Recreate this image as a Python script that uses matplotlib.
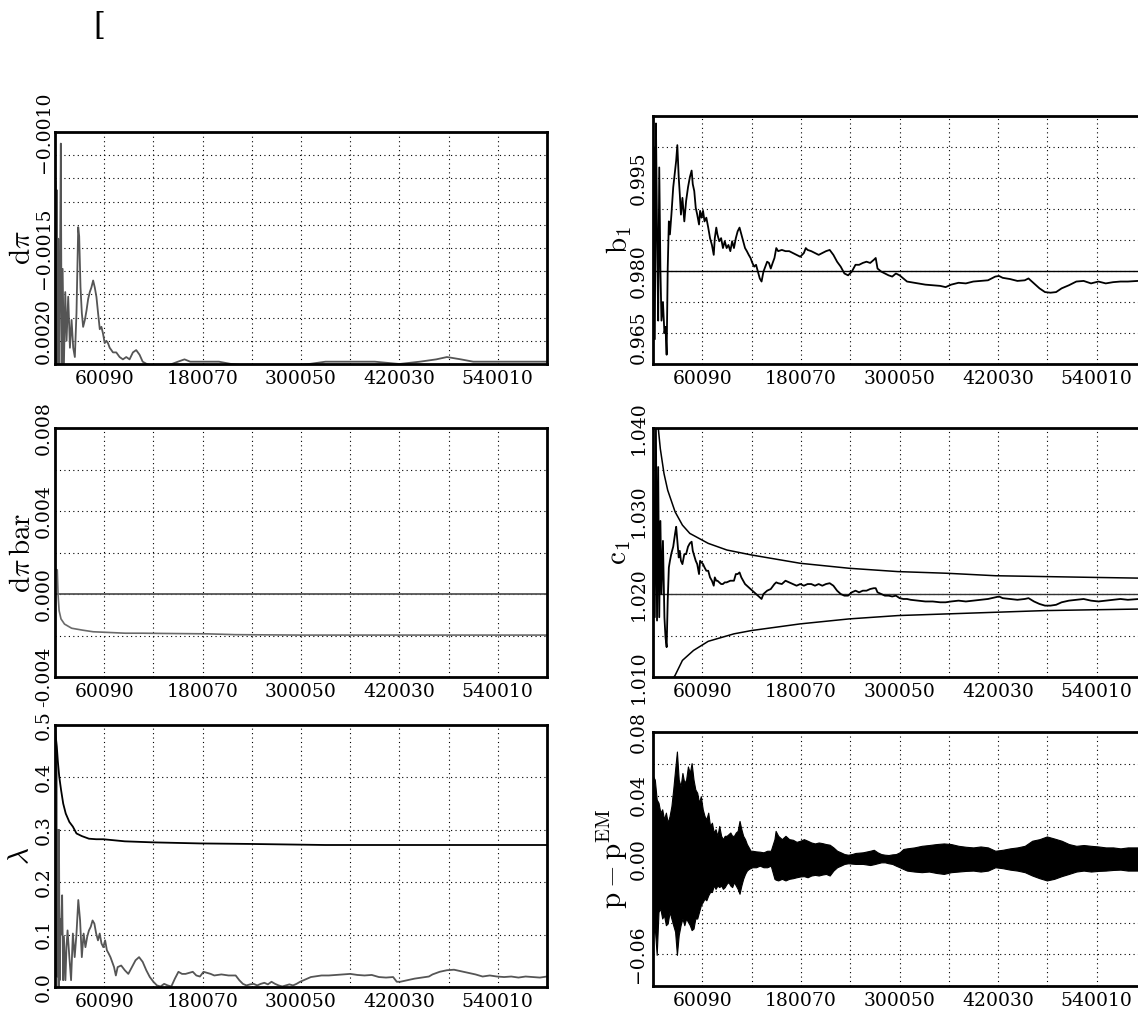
import numpy as np
import matplotlib.pyplot as plt

plt.rcParams['font.family'] = 'DejaVu Serif'
plt.rcParams['mathtext.fontset'] = 'cm'

# x axis: iterations
x_lo, x_hi = 100, 600000
x_grid = [60090, 120080, 180070, 240060, 300050, 360040, 420030, 480020, 540010]
x_labels = ['60090', '', '180070', '', '300050', '', '420030', '', '540010']

# d pi (thousands of iterations, value)
dpi_kx = [0.1, 0.6, 1.4, 2.2, 3.0, 4.0, 5.0, 6.0, 7.2, 8.2, 9.4, 11.0, 12.6, 14.2, 16.2,
          18.3, 20.3, 22.3, 24.3, 26.3, 28.4, 29.6, 31.2, 32.8, 34.4, 36.5, 38.5, 40.5,
          42.5, 44.5, 46.6, 48.6, 50.6, 52.6, 54.7, 56.7, 58.7, 60.7, 62.7, 64.7, 66.8,
          68.8, 70.8, 74.8, 78.9, 82.9, 87.0, 91.0, 95.1, 99.1, 103.2, 107.0, 112.0,
          120.0, 135.0, 150.0, 158.0, 165.0, 180.0, 200.0, 215.0, 240.0, 280.0, 310.0,
          330.0, 360.0, 390.0, 420.0, 445.0, 465.0, 478.0, 495.0, 510.0, 540.0, 570.0, 600.0]
dpi_val = [-0.00200, -0.00121, -0.00200, -0.00125, -0.00200, -0.00146, -0.00200, -0.00170,
           -0.00105, -0.00200, -0.00159, -0.00200, -0.00169, -0.00190, -0.00171, -0.00193,
           -0.00181, -0.00193, -0.00197, -0.00178, -0.00141, -0.00145, -0.00167, -0.00178,
           -0.00184, -0.00181, -0.00177, -0.00172, -0.00169, -0.00167, -0.00164, -0.00167,
           -0.00171, -0.00178, -0.00185, -0.00184, -0.00187, -0.00191, -0.00190, -0.00191,
           -0.00193, -0.00194, -0.00195, -0.00195, -0.00197, -0.00198, -0.00197, -0.00198,
           -0.00195, -0.00194, -0.00196, -0.00199, -0.00200, -0.00201, -0.00201, -0.00199,
           -0.00198, -0.00199, -0.00199, -0.00199, -0.00200, -0.00201, -0.00201, -0.00200,
           -0.00199, -0.00199, -0.00199, -0.00200, -0.00199, -0.00198, -0.00197, -0.00198,
           -0.00199, -0.00199, -0.00199, -0.00199]

# d pi bar
dpib_kx = [0.1, 2.9, 3.8, 5.1, 7.4, 11.7, 20.4, 33.4, 46.6, 64.0, 85.8, 107.0, 129.0,
           186.0, 220.0, 300.0, 600.0]
dpib_val = [0.00120, 0.00116, 0.00000, -0.00080, -0.00120, -0.00145, -0.00165, -0.00174,
            -0.00182, -0.00185, -0.00189, -0.00189, -0.00190, -0.00192, -0.00196,
            -0.00198, -0.00198]

# lambda: upper (black) and lower (grey) curves
lamu_kx = [0.1, 1.0, 2.3, 3.6, 5.3, 7.5, 10.1, 13.2, 17.6, 21.9, 26.3, 32.8, 41.5, 50.3,
           59.0, 85.2, 120.1, 176.8, 237.9, 329.5, 456.0, 600.0]
lamu_val = [0.500, 0.478, 0.459, 0.430, 0.401, 0.376, 0.350, 0.331, 0.315, 0.306, 0.293,
            0.288, 0.283, 0.282, 0.282, 0.278, 0.276, 0.274, 0.273, 0.271, 0.271, 0.271]
laml_kx = [0.1, 0.97, 1.8, 2.7, 3.6, 4.5, 4.9, 5.8, 6.6, 7.5, 8.8, 10.1, 11.0, 12.8, 14.1,
           15.4, 17.6, 19.7, 21.9, 24.1, 26.3, 28.5, 30.7, 32.8, 35.0, 37.2, 39.4, 41.5,
           43.7, 45.9, 48.1, 50.3, 52.5, 54.6, 56.8, 59.0, 61.2, 63.4, 65.5, 67.7, 72.1,
           74.3, 76.5, 80.8, 85.2, 89.5, 93.9, 98.3, 102.6, 107.0, 111.4, 115.7, 120.1,
           124.4, 128.8, 133.2, 137.5, 141.9, 146.3, 150.6, 155.0, 159.3, 163.7, 168.1,
           172.4, 176.8, 181.2, 185.5, 189.9, 194.3, 203.0, 211.7, 220.4, 224.8, 229.2,
           233.5, 237.9, 242.3, 246.6, 251.0, 255.4, 259.7, 264.1, 268.4, 272.8, 277.2,
           281.5, 285.9, 290.3, 294.6, 299.0, 303.3, 307.7, 312.1, 316.4, 325.1, 333.9,
           342.6, 351.3, 360.1, 368.8, 377.5, 386.3, 395.0, 403.7, 412.4, 416.8, 421.1,
           429.9, 438.6, 447.3, 456.0, 460.4, 469.1, 477.9, 486.6, 495.3, 504.0, 512.8,
           521.5, 530.2, 539.0, 547.7, 556.4, 565.2, 573.9, 582.6, 591.3, 600.0]
laml_val = [0.50, 0.05, 0.45, 0.02, 0.30, 0.0, 0.30, 0.013, 0.13, 0.10, 0.175, 0.013, 0.096,
            0.013, 0.076, 0.108, 0.057, 0.013, 0.102, 0.057, 0.102, 0.166, 0.127, 0.057,
            0.102, 0.076, 0.096, 0.108, 0.115, 0.127, 0.121, 0.102, 0.089, 0.102, 0.083,
            0.076, 0.089, 0.070, 0.064, 0.057, 0.038, 0.022, 0.038, 0.041, 0.032, 0.025,
            0.038, 0.051, 0.057, 0.048, 0.032, 0.019, 0.010, 0.003, 0.001, 0.006, 0.003,
            0.001, 0.016, 0.029, 0.025, 0.025, 0.027, 0.029, 0.022, 0.020, 0.029, 0.027,
            0.025, 0.022, 0.024, 0.022, 0.022, 0.013, 0.006, 0.003, 0.005, 0.006, 0.003,
            0.006, 0.008, 0.005, 0.010, 0.006, 0.003, 0.001, 0.003, 0.005, 0.003, 0.006,
            0.010, 0.013, 0.016, 0.019, 0.020, 0.022, 0.022, 0.023, 0.024, 0.025, 0.023,
            0.022, 0.023, 0.019, 0.018, 0.019, 0.010, 0.010, 0.013, 0.016, 0.018, 0.020,
            0.024, 0.029, 0.032, 0.033, 0.030, 0.027, 0.024, 0.020, 0.022, 0.020, 0.019,
            0.020, 0.018, 0.020, 0.019, 0.018, 0.020]

# b1 and c1 estimates share the same sampling in x
bc_kx = [0.1, 1.0, 2.3, 3.7, 5.0, 6.4, 7.7, 9.1, 10.4, 12.2, 14.0, 15.3, 16.7, 18.0, 19.4,
         20.7, 22.5, 24.7, 27.0, 28.3, 29.7, 31.4, 32.7, 34.1, 35.9, 38.2, 40.4, 42.7, 44.9,
         47.1, 48.5, 50.3, 52.1, 53.9, 56.1, 57.4, 59.2, 61.0, 62.8, 65.0, 67.3, 69.5, 71.8,
         74.0, 75.3, 77.1, 78.5, 80.7, 83.0, 85.2, 87.4, 89.7, 91.9, 94.2, 96.4, 98.6,
         100.9, 103.1, 105.4, 107.6, 109.8, 112.1, 114.3, 116.6, 118.8, 121.0, 123.3,
         125.5, 127.8, 130.0, 132.2, 134.5, 136.7, 139.0, 141.2, 143.4, 145.7, 147.9,
         150.1, 152.4, 156.9, 161.3, 165.8, 170.3, 174.8, 179.3, 183.7, 186.0, 188.2,
         192.7, 197.2, 201.7, 206.1, 210.6, 215.1, 219.6, 224.1, 228.5, 233.0, 237.5,
         242.0, 246.5, 250.9, 255.4, 259.9, 264.4, 268.8, 271.1, 273.3, 277.8, 282.3,
         286.8, 291.2, 295.7, 300.2, 304.7, 309.2, 313.6, 322.6, 331.5, 340.5, 349.5,
         356.2, 362.9, 371.9, 380.8, 389.8, 398.7, 407.7, 416.6, 421.1, 425.6, 434.6,
         443.5, 452.5, 457.0, 463.7, 470.4, 477.1, 483.8, 490.6, 497.3, 506.2, 515.2,
         524.1, 533.1, 542.1, 551.0, 560.0, 568.9, 577.9, 590.4, 600.0]
b1_val = [0.9891, 1.0000, 0.9690, 1.0038, 0.9864, 0.9720, 0.9967, 0.9804, 0.9720, 0.9750,
          0.9700, 0.9710, 0.9665, 0.9804, 0.9880, 0.9859, 0.9891, 0.9935, 0.9962, 0.9978,
          1.0003, 0.9951, 0.9924, 0.9891, 0.9918, 0.9880, 0.9913, 0.9935, 0.9951, 0.9962,
          0.9940, 0.9929, 0.9902, 0.9891, 0.9875, 0.9897, 0.9886, 0.9897, 0.9880, 0.9886,
          0.9870, 0.9853, 0.9842, 0.9826, 0.9853, 0.9870, 0.9859, 0.9848, 0.9853, 0.9837,
          0.9848, 0.9837, 0.9842, 0.9832, 0.9848, 0.9837, 0.9853, 0.9864, 0.9870, 0.9859,
          0.9848, 0.9837, 0.9832, 0.9826, 0.9821, 0.9813, 0.9807, 0.9810, 0.9799, 0.9788,
          0.9783, 0.9799, 0.9807, 0.9815, 0.9813, 0.9804, 0.9813, 0.9821, 0.9837, 0.9832,
          0.9834, 0.9832, 0.9832, 0.9829, 0.9826, 0.9823, 0.9829, 0.9837, 0.9834, 0.9832,
          0.9829, 0.9826, 0.9829, 0.9832, 0.9834, 0.9826, 0.9815, 0.9807, 0.9796, 0.9793,
          0.9799, 0.9810, 0.9810, 0.9813, 0.9815, 0.9813, 0.9818, 0.9821, 0.9804, 0.9799,
          0.9796, 0.9793, 0.9791, 0.9796, 0.9793, 0.9788, 0.9783, 0.9782, 0.9780, 0.9778,
          0.9777, 0.9776, 0.9774, 0.9778, 0.9781, 0.9780, 0.9783, 0.9784, 0.9785, 0.9791,
          0.9792, 0.9789, 0.9787, 0.9784, 0.9785, 0.9788, 0.9780, 0.9772, 0.9766, 0.9765,
          0.9766, 0.9772, 0.9777, 0.9783, 0.9784, 0.9780, 0.9783, 0.9780, 0.9782, 0.9783,
          0.9783, 0.9784, 0.9783]
c1_val = [1.0393, 1.0300, 1.0172, 1.0399, 1.0168, 1.0353, 1.0172, 1.0288, 1.0200, 1.0264,
          1.0172, 1.0148, 1.0136, 1.0192, 1.0232, 1.0240, 1.0249, 1.0257, 1.0273, 1.0281,
          1.0264, 1.0244, 1.0252, 1.0240, 1.0236, 1.0248, 1.0248, 1.0257, 1.0261, 1.0263,
          1.0252, 1.0246, 1.0240, 1.0236, 1.0224, 1.0240, 1.0238, 1.0236, 1.0232, 1.0228,
          1.0228, 1.0220, 1.0216, 1.0210, 1.0220, 1.0216, 1.0216, 1.0214, 1.0212, 1.0212,
          1.0214, 1.0214, 1.0215, 1.0216, 1.0216, 1.0216, 1.0224, 1.0224, 1.0226, 1.0220,
          1.0216, 1.0212, 1.0210, 1.0208, 1.0206, 1.0204, 1.0202, 1.0200, 1.0198, 1.0196,
          1.0194, 1.0200, 1.0202, 1.0204, 1.0205, 1.0206, 1.0209, 1.0212, 1.0214, 1.0213,
          1.0212, 1.0216, 1.0214, 1.0212, 1.0210, 1.0212, 1.0210, 1.0211, 1.0212, 1.0212,
          1.0210, 1.0212, 1.0210, 1.0212, 1.0213, 1.0210, 1.0204, 1.0200, 1.0198, 1.0198,
          1.0202, 1.0204, 1.0202, 1.0204, 1.0204, 1.0206, 1.0207, 1.0207, 1.0202, 1.0200,
          1.0198, 1.0198, 1.0197, 1.0198, 1.0195, 1.0194, 1.0194, 1.0193, 1.0192, 1.0191,
          1.0191, 1.0190, 1.0190, 1.0191, 1.0192, 1.0191, 1.0192, 1.0193, 1.0194, 1.0196,
          1.0197, 1.0195, 1.0194, 1.0193, 1.0194, 1.0195, 1.0191, 1.0188, 1.0186, 1.0186,
          1.0187, 1.0190, 1.0192, 1.0193, 1.0194, 1.0192, 1.0191, 1.0192, 1.0193, 1.0194,
          1.0193, 1.0194, 1.0194]

# c1 confidence band
c1up_kx = [2.0, 6.8, 9.0, 13.5, 18.0, 27.0, 35.9, 44.9, 67.3, 90.0, 120.1, 179.3, 238.8,
           297.9, 357.5, 417.1, 476.7, 536.2, 600.0]
c1up_val = [1.0500, 1.0397, 1.0375, 1.0345, 1.0325, 1.0299, 1.0283, 1.0273, 1.0261, 1.0253,
            1.0247, 1.0237, 1.0231, 1.0227, 1.0225, 1.0222, 1.0221, 1.0220, 1.0219]
c1lo_kx = [22.0, 27.0, 35.9, 49.4, 67.3, 98.6, 120.1, 179.3, 238.8, 297.9, 357.5, 417.1,
           476.7, 536.2, 600.0]
c1lo_val = [1.0095, 1.0102, 1.0120, 1.0132, 1.0143, 1.0152, 1.0156, 1.0164, 1.0170, 1.0174,
            1.0176, 1.0178, 1.0180, 1.0181, 1.0182]

# p - p^EM envelope
pe_kx = [0.1, 2.3, 4.6, 6.8, 9.1, 11.3, 13.5, 15.8, 18.0, 20.3, 22.5, 24.7, 27.0, 29.2,
         31.4, 33.7, 35.9, 38.2, 40.4, 42.6, 44.9, 47.1, 49.4, 51.6, 53.9, 56.1, 58.3,
         60.6, 62.8, 65.0, 67.3, 69.5, 71.8, 74.0, 76.2, 78.5, 80.7, 83.0, 85.2, 87.4,
         89.7, 91.9, 94.2, 96.4, 98.6, 100.9, 103.1, 105.4, 107.6, 109.8, 112.1, 114.3,
         116.6, 118.8, 121.0, 125.5, 130.0, 134.5, 139.0, 143.4, 147.9, 149.3, 152.4,
         156.9, 161.3, 165.8, 170.3, 174.8, 179.3, 183.7, 188.2, 192.7, 197.2, 201.7,
         206.1, 210.6, 215.1, 219.6, 224.1, 228.5, 233.0, 237.5, 242.0, 246.5, 255.4,
         264.4, 268.8, 273.3, 277.8, 282.3, 286.8, 291.2, 295.7, 300.2, 304.7, 309.2,
         318.1, 327.1, 336.0, 345.0, 354.0, 362.9, 371.9, 380.8, 389.8, 398.7, 407.7,
         416.6, 425.6, 434.6, 443.5, 452.5, 461.5, 470.4, 479.4, 488.3, 497.3, 506.2,
         515.2, 524.1, 533.1, 542.1, 551.0, 560.0, 568.9, 577.9, 590.4, 600.0]
pe_up = [0.0521, 0.0500, 0.0375, 0.0354, 0.0292, 0.0313, 0.0250, 0.0292, 0.0229, 0.0271,
         0.0333, 0.0438, 0.0563, 0.0677, 0.0500, 0.0458, 0.0542, 0.0479, 0.0500, 0.0583,
         0.0542, 0.0604, 0.0500, 0.0438, 0.0417, 0.0354, 0.0396, 0.0313, 0.0271, 0.0250,
         0.0292, 0.0208, 0.0229, 0.0167, 0.0188, 0.0146, 0.0208, 0.0146, 0.0125, 0.0146,
         0.0146, 0.0156, 0.0167, 0.0146, 0.0146, 0.0167, 0.0177, 0.0240, 0.0188, 0.0146,
         0.0125, 0.0094, 0.0073, 0.0052, 0.0052, 0.0048, 0.0046, 0.0042, 0.0052, 0.0052,
         0.0125, 0.0177, 0.0146, 0.0125, 0.0146, 0.0125, 0.0121, 0.0108, 0.0115, 0.0125,
         0.0115, 0.0104, 0.0098, 0.0104, 0.0100, 0.0094, 0.0090, 0.0073, 0.0052, 0.0042,
         0.0031, 0.0027, 0.0031, 0.0038, 0.0042, 0.0052, 0.0058, 0.0042, 0.0031, 0.0027,
         0.0025, 0.0029, 0.0031, 0.0042, 0.0063, 0.0067, 0.0073, 0.0083, 0.0088, 0.0094,
         0.0098, 0.0094, 0.0083, 0.0077, 0.0073, 0.0079, 0.0073, 0.0052, 0.0058, 0.0067,
         0.0073, 0.0083, 0.0115, 0.0125, 0.0142, 0.0129, 0.0115, 0.0094, 0.0083, 0.0088,
         0.0083, 0.0079, 0.0073, 0.0073, 0.0067, 0.0073, 0.0073, 0.0073]
pe_lo = [-0.0479, -0.0438, -0.0604, -0.0333, -0.0313, -0.0375, -0.0354, -0.0417, -0.0406,
         -0.0333, -0.0375, -0.0417, -0.0458, -0.0604, -0.0479, -0.0417, -0.0375, -0.0417,
         -0.0375, -0.0396, -0.0417, -0.0448, -0.0438, -0.0375, -0.0375, -0.0333, -0.0292,
         -0.0271, -0.0250, -0.0260, -0.0229, -0.0208, -0.0208, -0.0167, -0.0188, -0.0167,
         -0.0177, -0.0167, -0.0188, -0.0177, -0.0156, -0.0146, -0.0167, -0.0177, -0.0146,
         -0.0167, -0.0188, -0.0219, -0.0167, -0.0125, -0.0094, -0.0073, -0.0063, -0.0057,
         -0.0052, -0.0052, -0.0042, -0.0052, -0.0052, -0.0042, -0.0125, -0.0130, -0.0135,
         -0.0125, -0.0135, -0.0125, -0.0121, -0.0115, -0.0110, -0.0108, -0.0115, -0.0104,
         -0.0100, -0.0104, -0.0098, -0.0094, -0.0104, -0.0073, -0.0052, -0.0042, -0.0031,
         -0.0027, -0.0029, -0.0031, -0.0031, -0.0038, -0.0033, -0.0027, -0.0021, -0.0021,
         -0.0027, -0.0031, -0.0042, -0.0052, -0.0063, -0.0073, -0.0079, -0.0083, -0.0079,
         -0.0088, -0.0094, -0.0083, -0.0079, -0.0075, -0.0073, -0.0079, -0.0073, -0.0052,
         -0.0058, -0.0067, -0.0073, -0.0083, -0.0104, -0.0121, -0.0135, -0.0125, -0.0108,
         -0.0094, -0.0079, -0.0073, -0.0079, -0.0075, -0.0073, -0.0069, -0.0067, -0.0073,
         -0.0073, -0.0073]


def k(a):
    return np.asarray(a) * 1000.0


def setup(ax, ylim, yticks, ylabels, ylabel, bottom_up=False, pad=1.5, labx=-0.068):
    ax.set_xlim(x_lo, x_hi)
    ax.set_ylim(*ylim)
    ax.set_xticks(x_grid, x_labels)
    ax.set_yticks(yticks, ylabels)
    ax.tick_params(length=0, labelsize=13.5)
    ax.tick_params(axis='x', pad=4)
    ax.tick_params(axis='y', labelrotation=90, pad=pad)
    for t in ax.get_yticklabels():
        t.set_va('center')
    if bottom_up:
        ax.get_yticklabels()[0].set_va('bottom')
    ax.grid(True, color='black', linestyle=(0, (1, 3)), linewidth=0.8)
    for s in ax.spines.values():
        s.set_linewidth(2.0)
    ax.set_ylabel(ylabel, fontsize=21)
    ax.yaxis.label.set(ha='center', va='center', rotation_mode='default')
    ax.yaxis.set_label_coords(labx, 0.5)


fig = plt.figure(figsize=(11.38, 10.10), dpi=100)
W, H = 1138.0, 1010.0


def box(l, t, r, b):
    return [l / W, 1 - b / H, (r - l) / W, (b - t) / H]


ax1 = fig.add_axes(box(55, 132, 547, 364))
ax2 = fig.add_axes(box(55, 428, 547, 677))
ax3 = fig.add_axes(box(55, 725, 547, 987))
ax4 = fig.add_axes(box(653, 116, 1146, 364))
ax5 = fig.add_axes(box(653, 428, 1146, 677))
ax6 = fig.add_axes(box(653, 732, 1146, 986))

# d pi
ax1.plot(k(dpi_kx), dpi_val, color='#555555', lw=1.3)
t1 = np.round(np.arange(-0.0020, -0.00099, 0.0001), 5)
l1 = ['' for _ in t1]
l1[0], l1[5], l1[10] = '0.0020', '\u22120.0015', '\u22120.0010'
setup(ax1, (-0.0020, -0.0010), t1, l1, r'$\mathrm{d}\pi$', bottom_up=True)

# d pi bar
ax2.axhline(0.0, color='#555555', lw=1.3)
ax2.plot(k(dpib_kx), dpib_val, color='#6a6a6a', lw=1.2)
t2 = np.round(np.arange(-0.004, 0.0081, 0.002), 4)
l2 = ['-0.004', '', '0.000', '', '0.004', '', '0.008']
setup(ax2, (-0.004, 0.008), t2, l2, r'$\mathrm{d}\pi\,\mathrm{bar}$')

# lambda
ax3.plot(k(laml_kx), laml_val, color='#555555', lw=1.3)
ax3.plot(k(lamu_kx), lamu_val, color='black', lw=1.3)
t3 = np.round(np.arange(0, 0.51, 0.1), 1)
setup(ax3, (0, 0.5), t3, ['%.1f' % v for v in t3], r'$\lambda$')

# b1
ax4.axhline(0.980, color='black', lw=1.0)
ax4.plot(k(bc_kx), b1_val, color='black', lw=1.3)
t4 = np.round(np.arange(0.965, 1.0051, 0.005), 3)
l4 = ['' for _ in t4]
l4[0], l4[3], l4[6] = '0.965', '0.980', '0.995'
setup(ax4, (0.965, 1.005), t4, l4, r'$\mathrm{b}_1$', bottom_up=True, pad=4)

# c1
ax5.axhline(1.020, color='#333333', lw=1.0)
ax5.plot(k(c1up_kx), c1up_val, color='black', lw=1.1)
ax5.plot(k(c1lo_kx), c1lo_val, color='black', lw=1.1)
ax5.plot(k(bc_kx), c1_val, color='black', lw=1.3)
t5 = np.round(np.arange(1.010, 1.0401, 0.005), 3)
l5 = ['1.010', '', '1.020', '', '1.030', '', '1.040']
setup(ax5, (1.010, 1.040), t5, l5, r'$\mathrm{c}_1$', pad=4)

# p - p^EM
ax6.fill_between(k(pe_kx), pe_lo, pe_up, color='black', lw=0.8)
t6 = np.round(np.arange(-0.08, 0.081, 0.02), 2)
l6 = ['', '\u22120.06', '', '', '0.00', '', '0.04', '', '0.08']
setup(ax6, (-0.08, 0.08), t6, l6, r'$\mathrm{p}-\mathrm{p}^{\mathrm{EM}}$', pad=4,
      labx=-0.082)

fig.text(99.5 / W, 1 - 26.5 / H, '[', fontsize=22, ha='center', va='center')

fig.savefig('out.png', dpi=100)
